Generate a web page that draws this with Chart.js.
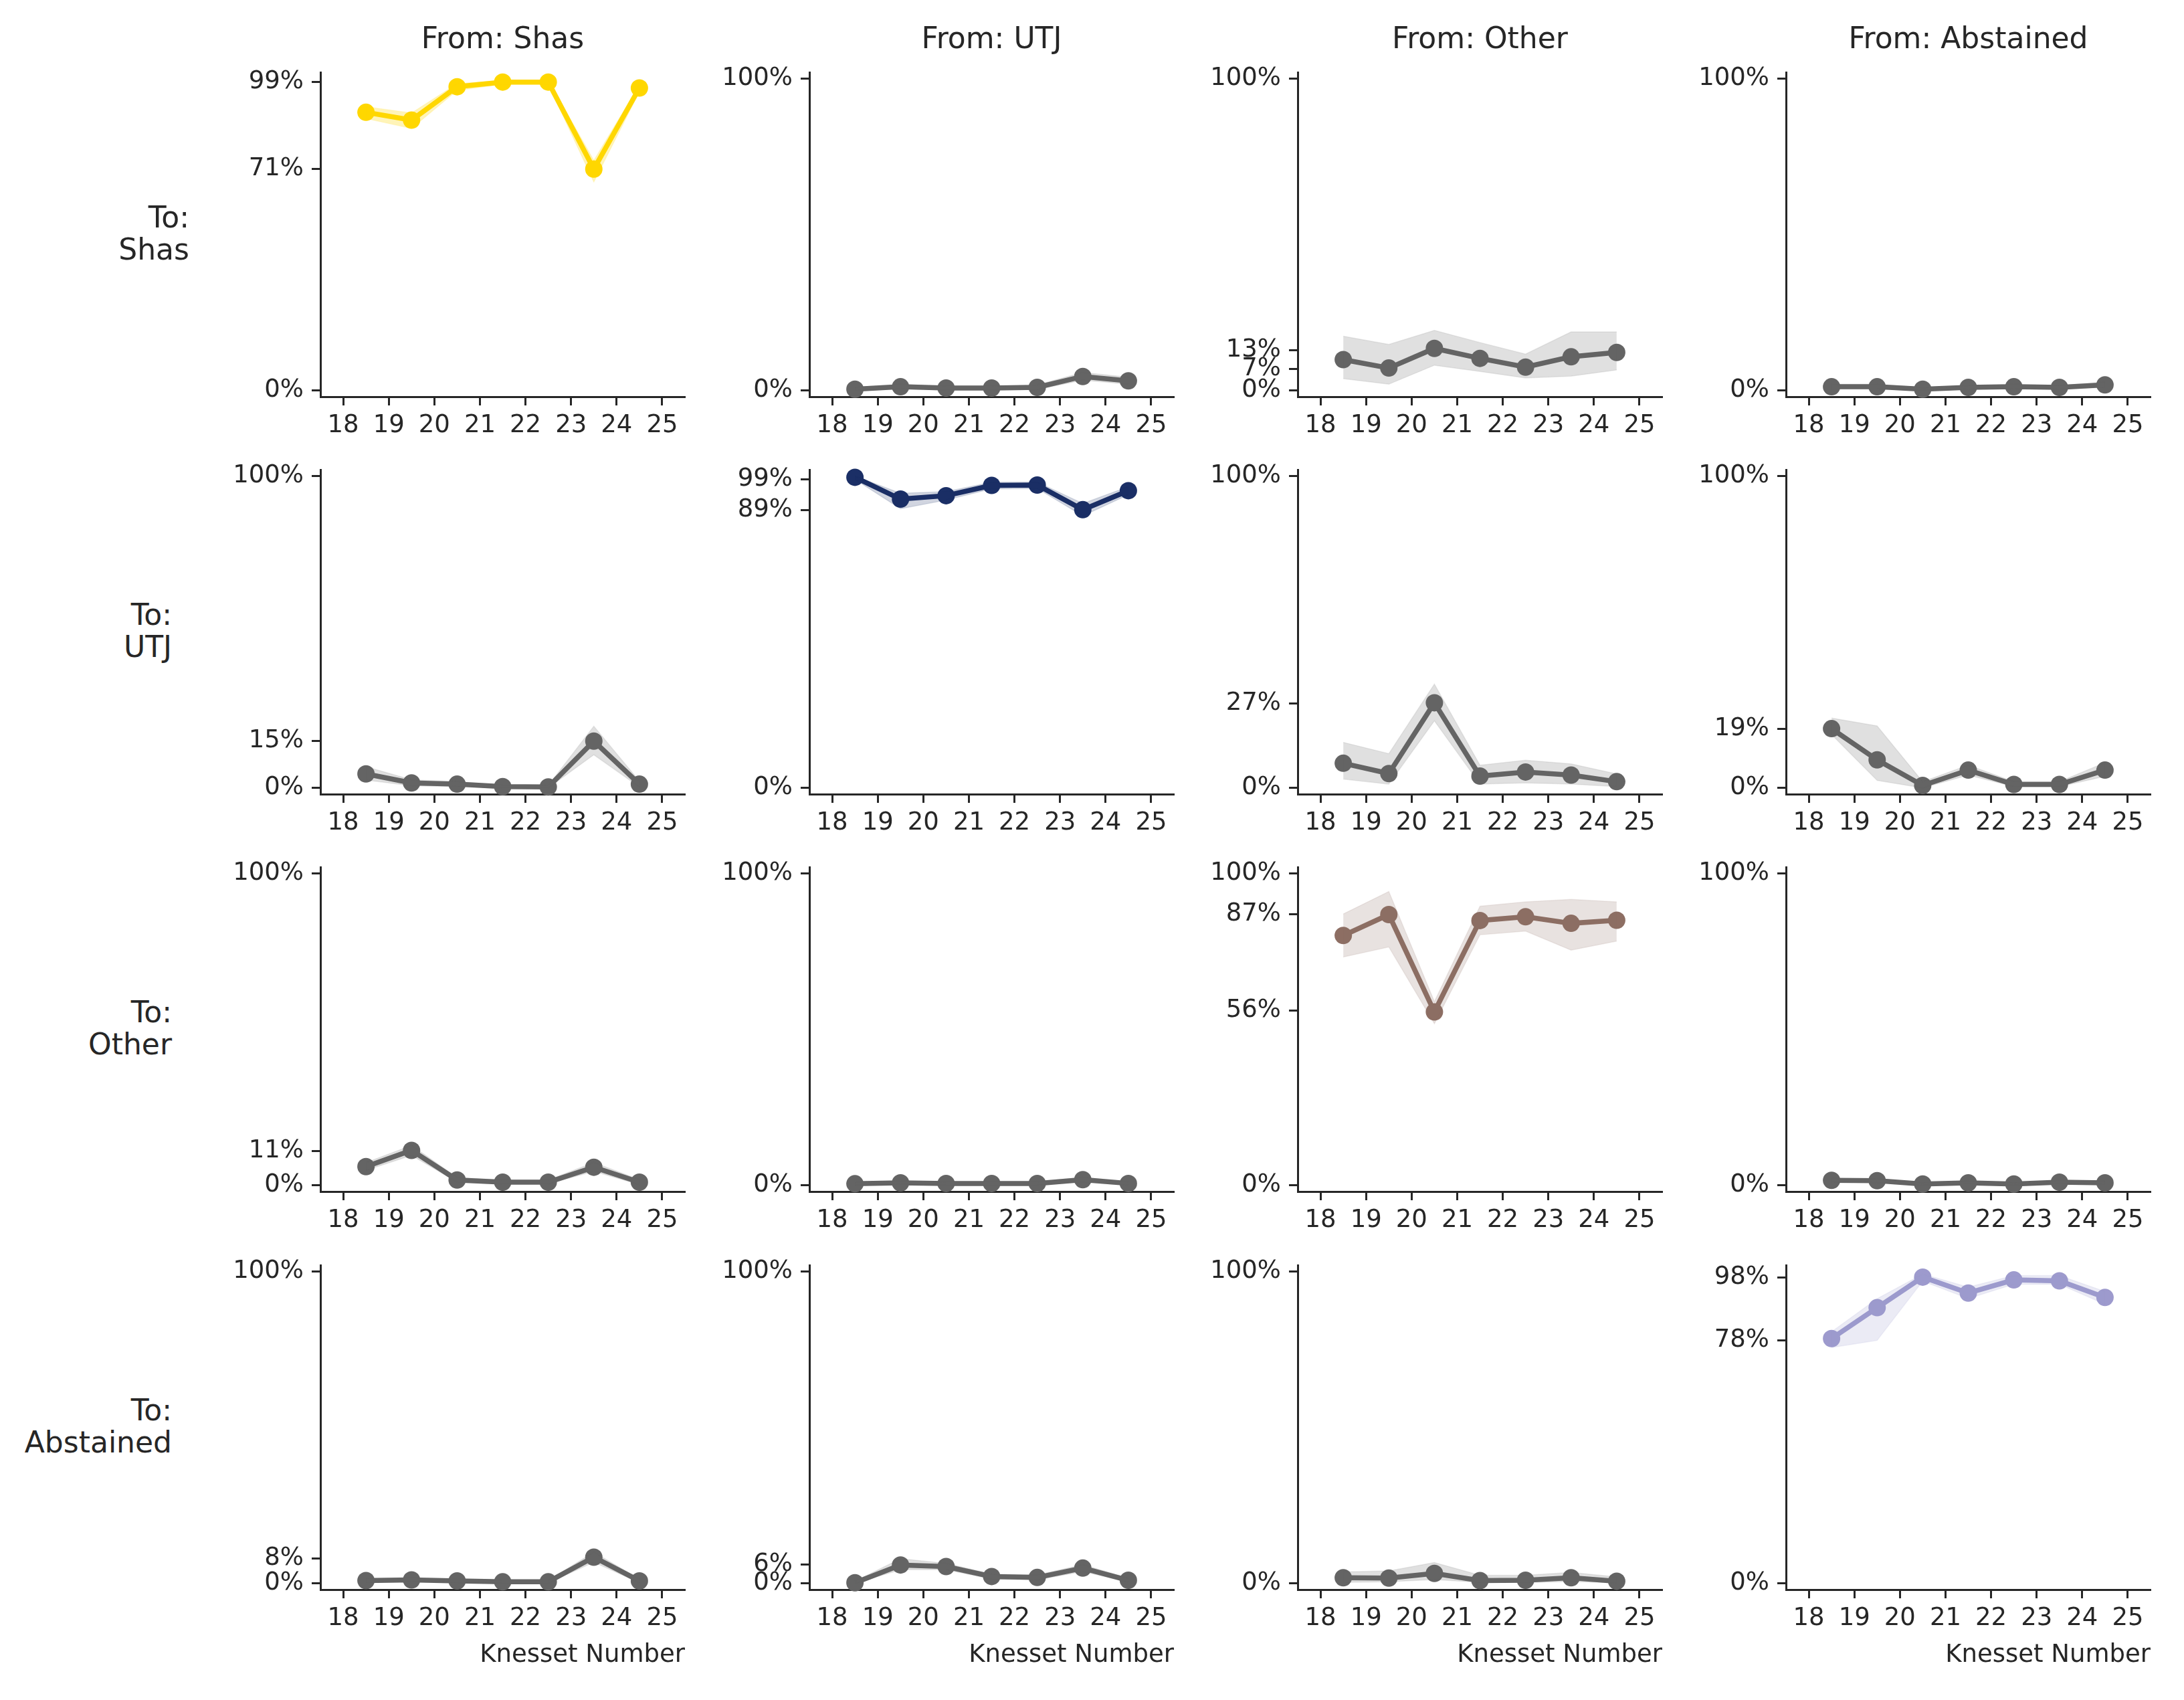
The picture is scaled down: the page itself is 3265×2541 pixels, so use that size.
<!DOCTYPE html>
<html lang="en">
<head>
<meta charset="UTF-8">
<title>Vote transitions by Knesset</title>
<script src="https://cdn.jsdelivr.net/npm/chart.js@4.4.1/dist/chart.umd.min.js"></script>
<style>
  html, body { margin: 0; padding: 0; background: #fff; }
  #figure { position: relative; width: 3265px; height: 2541px; font-family: 'DejaVu Sans', sans-serif; color: #262626; }
  .panel { position: absolute; }
  .col-title { position: absolute; font-size: 44px; transform: translate(-50%, -50%); white-space: nowrap; }
  .row-label { position: absolute; font-size: 44px; line-height: 48px; text-align: right; transform: translate(-100%, -50%); white-space: nowrap; }
  .x-label { position: absolute; font-size: 37px; transform: translate(-100%, -50%); white-space: nowrap; }
</style>
</head>
<body>
<div id="figure"></div>
<script>
  // parties (columns = from, rows = to)
  const parties = ['Shas', 'UTJ', 'Other', 'Abstained'];
  const partyColors = ['#FFD700', '#1B2F66', '#8D6E63', '#9D9ACD'];
  const otherColor = '#646464';

  // knesset tick labels and where the points sit on that axis
  const knessetTicks = [18, 19, 20, 21, 22, 23, 24, 25];
  const pointPos = [18.5, 19.5, 20.5, 21.5, 22.5, 23.5, 24.5];

  // ---- To: Shas ----
  const shasToShas      = [89.2, 86.7, 97.4, 98.9, 98.9, 71.0, 97.0];
  const shasToShasLo    = [87.2, 84.0, 96.2, 98.2, 98.2, 66.8, 95.8];
  const shasToShasHi    = [91.0, 89.0, 98.4, 99.5, 99.5, 73.8, 98.0];
  const utjToShas       = [0.4, 1.2, 0.8, 0.8, 1.0, 4.5, 3.1];
  const utjToShasLo     = [0.0, 0.5, 0.2, 0.2, 0.3, 3.3, 2.0];
  const utjToShasHi     = [1.0, 2.0, 1.5, 1.5, 1.8, 5.8, 4.3];
  const otherToShas     = [9.9, 7.2, 13.5, 10.3, 7.5, 10.8, 12.2];
  const otherToShasLo   = [3.8, 2.0, 8.1, 6.1, 4.0, 4.6, 6.6];
  const otherToShasHi   = [17.4, 14.8, 19.3, 15.4, 11.7, 18.8, 18.8];
  const absToShas       = [1.2, 1.2, 0.4, 1.0, 1.2, 1.0, 1.8];
  const absToShasLo     = [0.5, 0.5, 0.0, 0.4, 0.5, 0.4, 1.0];
  const absToShasHi     = [2.0, 2.0, 0.9, 1.6, 2.0, 1.6, 2.7];

  // ---- To: UTJ ----
  const shasToUtj       = [4.5, 1.6, 1.2, 0.4, 0.3, 15.0, 1.2];
  const shasToUtjLo     = [2.5, 0.7, 0.4, 0.0, 0.0, 10.6, 0.3];
  const shasToUtjHi     = [6.8, 2.6, 2.0, 0.9, 0.8, 19.8, 2.2];
  const utjToUtj        = [99.6, 92.6, 93.7, 97.0, 97.1, 89.2, 95.3];
  const utjToUtjLo      = [98.9, 89.5, 92.3, 95.9, 96.0, 87.2, 94.0];
  const utjToUtjHi      = [100.0, 94.5, 95.0, 98.0, 98.1, 91.2, 96.6];
  const otherToUtj      = [7.9, 4.6, 27.3, 3.8, 5.1, 4.1, 2.0];
  const otherToUtjLo    = [2.8, 1.2, 21.5, 1.2, 1.6, 1.2, 0.4];
  const otherToUtjHi    = [14.6, 11.0, 33.3, 7.3, 8.9, 7.7, 4.5];
  const absToUtj        = [19.0, 9.0, 0.8, 5.7, 1.1, 1.1, 5.7];
  const absToUtjLo      = [17.1, 2.4, 0.0, 4.1, 0.4, 0.4, 3.7];
  const absToUtjHi      = [22.4, 19.9, 2.0, 7.3, 2.0, 2.0, 8.1];

  // ---- To: Other ----
  const shasToOther     = [6.0, 11.2, 1.7, 1.0, 1.0, 5.8, 1.0];
  const shasToOtherLo   = [4.8, 9.6, 1.0, 0.4, 0.4, 4.5, 0.2];
  const shasToOtherHi   = [7.3, 12.8, 2.5, 1.7, 1.7, 7.3, 1.8];
  const utjToOther      = [0.5, 0.8, 0.6, 0.6, 0.6, 1.8, 0.6];
  const utjToOtherLo    = [0.0, 0.3, 0.1, 0.1, 0.1, 1.0, 0.1];
  const utjToOtherHi    = [1.0, 1.3, 1.1, 1.1, 1.1, 2.6, 1.1];
  const otherToOther    = [80.1, 86.8, 55.6, 84.9, 86.1, 84.0, 85.0];
  const otherToOtherLo  = [73.2, 76.4, 51.8, 80.3, 81.5, 75.4, 78.3];
  const otherToOtherHi  = [87.0, 94.2, 58.9, 89.5, 90.9, 91.7, 90.9];
  const absToOther      = [1.6, 1.5, 0.4, 0.8, 0.4, 1.0, 0.8];
  const absToOtherLo    = [1.0, 0.9, 0.1, 0.4, 0.1, 0.5, 0.4];
  const absToOtherHi    = [2.2, 2.1, 0.8, 1.3, 0.8, 1.5, 1.3];

  // ---- To: Abstained ----
  const shasToAbs       = [0.9, 1.1, 0.8, 0.5, 0.5, 8.4, 0.8];
  const shasToAbsLo     = [0.3, 0.5, 0.3, 0.1, 0.1, 6.8, 0.2];
  const shasToAbsHi     = [1.6, 1.8, 1.4, 1.0, 1.0, 10.0, 1.4];
  const utjToAbs        = [0.2, 5.9, 5.4, 2.2, 1.9, 4.9, 1.0];
  const utjToAbsLo      = [0.0, 4.4, 4.4, 1.4, 1.1, 3.8, 0.4];
  const utjToAbsHi      = [0.7, 7.9, 6.4, 3.0, 2.7, 6.0, 1.7];
  const otherToAbs      = [1.8, 1.7, 3.2, 0.9, 1.0, 1.8, 0.7];
  const otherToAbsLo    = [0.3, 0.5, 1.2, 0.3, 0.3, 0.6, 0.2];
  const otherToAbsHi    = [3.7, 4.0, 6.7, 2.6, 2.6, 3.5, 2.1];
  const absToAbs        = [78.5, 88.4, 98.2, 93.1, 97.3, 97.0, 91.7];
  const absToAbsLo      = [75.6, 77.9, 96.9, 91.3, 95.9, 95.9, 89.5];
  const absToAbsHi      = [80.7, 91.3, 99.2, 95.0, 98.7, 98.7, 93.6];

  // y tick labels shown on each panel (row = to, col = from)
  const yTicksToShas  = [[0, 71, 99], [0, 100], [0, 7, 13, 100], [0, 100]];
  const yTicksToUtj   = [[0, 15, 100], [0, 89, 99], [0, 27, 100], [0, 19, 100]];
  const yTicksToOther = [[0, 11, 100], [0, 100], [0, 56, 87, 100], [0, 100]];
  const yTicksToAbs   = [[0, 8, 100], [0, 6, 100], [0, 100], [0, 78, 98]];

  // grid of [mean, lo, hi] built from the arrays above
  const panels = [
    [[shasToShas, shasToShasLo, shasToShasHi], [utjToShas, utjToShasLo, utjToShasHi],
     [otherToShas, otherToShasLo, otherToShasHi], [absToShas, absToShasLo, absToShasHi]],
    [[shasToUtj, shasToUtjLo, shasToUtjHi], [utjToUtj, utjToUtjLo, utjToUtjHi],
     [otherToUtj, otherToUtjLo, otherToUtjHi], [absToUtj, absToUtjLo, absToUtjHi]],
    [[shasToOther, shasToOtherLo, shasToOtherHi], [utjToOther, utjToOtherLo, utjToOtherHi],
     [otherToOther, otherToOtherLo, otherToOtherHi], [absToOther, absToOtherLo, absToOtherHi]],
    [[shasToAbs, shasToAbsLo, shasToAbsHi], [utjToAbs, utjToAbsLo, utjToAbsHi],
     [otherToAbs, otherToAbsLo, otherToAbsHi], [absToAbs, absToAbsLo, absToAbsHi]]
  ];
  const yTicks = [yTicksToShas, yTicksToUtj, yTicksToOther, yTicksToAbs];

  // layout (pixels)
  const SPINE_X = [479, 1210, 1940, 2670];
  const SPINE_TOP = [104, 698, 1292, 1887];
  const AXIS_W = 545, AXIS_H = 489;
  const Y_AXIS_W = 220, X_AXIS_H = 100, PAD_T = 30, PAD_R = 30;
  const ROW_LABEL_RIGHT = [283, 257, 257, 257];
  const TEXT = '#262626';

  Chart.defaults.font.family = "'DejaVu Sans', sans-serif";
  Chart.defaults.color = TEXT;

  const fig = document.getElementById('figure');

  function hexAlpha(hex, a) {
    const n = parseInt(hex.slice(1), 16);
    return `rgba(${n >> 16}, ${(n >> 8) & 255}, ${n & 255}, ${a})`;
  }
  function pts(vals) {
    return vals.map((v, i) => ({ x: pointPos[i], y: v }));
  }

  for (let r = 0; r < 4; r++) {
    for (let c = 0; c < 4; c++) {
      const [mean, lo, hi] = panels[r][c];
      const color = r === c ? partyColors[c] : otherColor;
      const bandAlpha = r === c && c === 0 ? 0.28 : 0.2;

      const canvas = document.createElement('canvas');
      canvas.className = 'panel';
      canvas.width = Y_AXIS_W + AXIS_W + PAD_R;
      canvas.height = PAD_T + AXIS_H + X_AXIS_H;
      canvas.style.left = (SPINE_X[c] - Y_AXIS_W) + 'px';
      canvas.style.top = (SPINE_TOP[r] - PAD_T) + 'px';
      fig.appendChild(canvas);

      const ticksY = yTicks[r][c];
      new Chart(canvas.getContext('2d'), {
        type: 'line',
        data: {
          datasets: [
            { data: pts(lo), borderWidth: 1.5, borderColor: hexAlpha(color, 0.12),
              pointRadius: 0, fill: false, clip: false },
            { data: pts(hi), borderWidth: 1.5, borderColor: hexAlpha(color, 0.12), pointRadius: 0,
              fill: '-1', backgroundColor: hexAlpha(color, bandAlpha), clip: false },
            { data: pts(mean), borderColor: color, borderWidth: 7.5, pointRadius: 13,
              pointHoverRadius: 13, pointBackgroundColor: color, pointBorderWidth: 0,
              fill: false, clip: false }
          ]
        },
        options: {
          responsive: false,
          animation: false,
          devicePixelRatio: 1,
          layout: { padding: { top: PAD_T, right: PAD_R, left: 0, bottom: 0 } },
          plugins: { legend: { display: false }, tooltip: { enabled: false } },
          scales: {
            x: {
              type: 'linear',
              min: 17.5,
              max: 25.5,
              afterBuildTicks: s => { s.ticks = knessetTicks.map(v => ({ value: v })); },
              afterFit: s => { s.height = X_AXIS_H; },
              grid: { drawOnChartArea: false, drawTicks: true, tickLength: 13, tickWidth: 3, tickColor: TEXT },
              border: { display: true, width: 3, color: TEXT },
              ticks: { autoSkip: false, maxRotation: 0, padding: 8, font: { size: 37 },
                       callback: v => String(v) }
            },
            y: {
              type: 'linear',
              min: -2,
              max: 102,
              afterBuildTicks: s => { s.ticks = ticksY.map(v => ({ value: v })); },
              afterFit: s => { s.width = Y_AXIS_W; },
              grid: { drawOnChartArea: false, drawTicks: true, tickLength: 13, tickWidth: 3, tickColor: TEXT },
              border: { display: true, width: 3, color: TEXT },
              ticks: { autoSkip: false, padding: 12, font: { size: 37 },
                       callback: v => v + '%' }
            }
          }
        }
      });
    }
  }

  // column titles
  parties.forEach((p, c) => {
    const d = document.createElement('div');
    d.className = 'col-title';
    d.textContent = 'From: ' + p;
    d.style.left = (SPINE_X[c] + AXIS_W / 2) + 'px';
    d.style.top = '56px';
    fig.appendChild(d);
  });

  // row labels
  parties.forEach((p, r) => {
    const d = document.createElement('div');
    d.className = 'row-label';
    d.innerHTML = 'To:<br>' + p;
    d.style.left = ROW_LABEL_RIGHT[r] + 'px';
    d.style.top = (SPINE_TOP[r] + AXIS_H / 2) + 'px';
    fig.appendChild(d);
  });

  // x axis labels under the bottom row
  SPINE_X.forEach(x => {
    const d = document.createElement('div');
    d.className = 'x-label';
    d.textContent = 'Knesset Number';
    d.style.left = (x + AXIS_W) + 'px';
    d.style.top = (SPINE_TOP[3] + AXIS_H + 95) + 'px';
    fig.appendChild(d);
  });
</script>
</body>
</html>
